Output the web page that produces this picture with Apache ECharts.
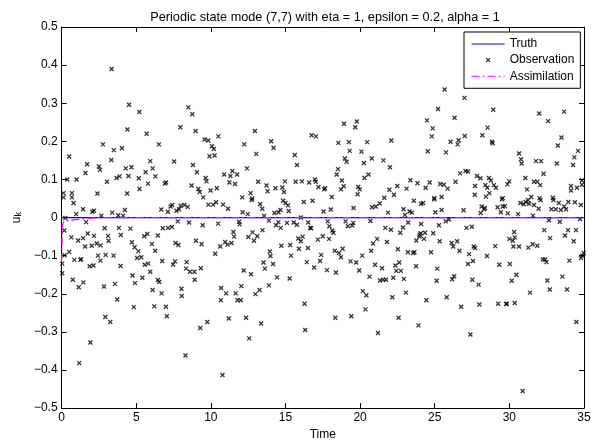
<!DOCTYPE html>
<html>
<head>
<meta charset="utf-8">
<script src="https://cdn.jsdelivr.net/npm/echarts@6/dist/echarts.min.js"></script>
<style>
html,body{margin:0;padding:0;background:#fff;}
#chart{width:599px;height:446px;}
</style>
</head>
<body>
<div id="chart"></div>
<script>
// ---- data ----
const titleText = 'Periodic state mode (7,7) with eta = 1, epsilon = 0.2, alpha = 1';
const xTicks = [0, 5, 10, 15, 20, 25, 30, 35];
const yTicks = [-0.5, -0.4, -0.3, -0.2, -0.1, 0, 0.1, 0.2, 0.3, 0.4, 0.5];
const seriesNames = ['Truth', 'Observation', 'Assimilation'];

const truth = [[0, 0], [35, 0]];

const assimilation = [[0, -0.115], [0.05, -0.02], [0.15, -0.01], [0.8, -0.006], [1.5, -0.003], [2.5, 0], [35, 0]];

const observation = [
[3.35,0.39],[4.52,0.296],[5.21,0.277],[4.41,0.231],[7.96,0.237],[5.70,0.220],[2.77,0.192],[6.52,0.192],[3.5,0.177],[4.04,0.182],
[0.51,0.16],[3.33,0.151],[5.94,0.148],[7.54,0.147],[1.71,0.14],[2.5,0.134],[2.57,0.125],[4.3,0.129],[4.68,0.132],[6.1,0.129],
[1.6,0.117],[5.63,0.119],[0.38,0.1],[1.0,0.1],[3.04,0.094],[3.68,0.104],[3.88,0.108],[4.48,0.109],[5.17,0.103],[6.28,0.108],
[5.79,0.089],[5.22,0.075],[6.92,0.089],[7.0,0.092],[0.13,0.064],[0.69,0.064],[0.13,0.053],[0.69,0.053],[2.4,0.063],[4.39,0.063],
[0.8,0.038],
[0.98,0.009],[1.44,0.022],[2.06,0.015],[2.17,0.018],[2.66,0.005],[3.39,0.013],[3.79,0.006],[4.24,0.02],[4.12,0.005],[0.25,-0.001],
[1.64,-0.012],[0.18,-0.034],[2.88,-0.028],[3.84,-0.027],[4.61,-0.029],[1.75,-0.042],[2.17,-0.048],[1.44,-0.054],[1.11,-0.06],[0.65,-0.052],
[3.11,-0.048],[3.15,-0.061],[2.35,-0.068],[2.61,-0.073],[1.58,-0.076],[2.02,-0.074],[3.97,-0.046],[0.51,-0.09],[0.2,-0.099],[0.85,-0.111],
[1.26,-0.111],[1.31,-0.109],[2.44,-0.1],[2.95,-0.098],[3.48,-0.1],[0.04,-0.121],[1.88,-0.128],[2.13,-0.126],[0.04,-0.146],[3.95,-0.127],
[0.75,-0.163],[1.46,-0.17],[1.15,-0.183],[2.84,-0.181],[3.57,-0.174],[2.6,-0.113],
[3.73,-0.215],[2.93,-0.261],[3.26,-0.274],[1.93,-0.328],[1.18,-0.382],[4.84,-0.235],[6.21,-0.233],[7.05,-0.259],[6.99,-0.234],[8.03,-0.187],
[8.05,-0.206],[4.75,-0.152],[4.92,-0.172],[5.41,-0.158],[6.1,-0.19],[6.7,-0.199],[6.45,-0.164],[6.54,-0.169],[5.94,-0.142],[5.57,-0.124],
[5.81,-0.121],[7.47,-0.123],[7.6,-0.115],[6.74,-0.114],[5.06,-0.106],[5.34,-0.104],[4.71,-0.065],[4.89,-0.078],[5.14,-0.088],[5.54,-0.049],
[5.74,-0.043],[6.05,-0.069],[6.27,-0.087],[6.45,-0.047],[6.78,-0.028],[7.13,-0.027],[7.39,-0.025],[7.63,-0.067],[7.83,-0.072],[6.68,0.021],
[7.12,0.015],[7.3,0.029],[7.41,0.033],[7.7,0.018],[7.87,0.022],[7.98,0.031],[7.78,-0.01],
[8.49,0.289],[8.76,0.271],[8.98,0.227],[12.95,0.227],[10.5,0.213],[9.58,0.205],[9.83,0.202],[14.04,0.2],[16.75,0.216],[17.05,0.213],
[10.07,0.187],[10.2,0.18],[12.24,0.192],[14.2,0.183],[9.91,0.161],[10.25,0.163],[13.04,0.167],[15.62,0.164],[8.8,0.138],[15.77,0.138],
[9.07,0.119],[12.42,0.129],[10.89,0.113],[11.44,0.122],[11.31,0.109],[11.76,0.113],[9.65,0.104],[9.71,0.095],[11.24,0.092],[11.62,0.088],
[13.17,0.094],[8.71,0.084],[9.16,0.075],[9.25,0.067],[9.98,0.071],[10.4,0.077],[13.73,0.084],[13.8,0.069],[14.33,0.077],[14.79,0.079],
[14.9,0.067],[14.97,0.095],[15.68,0.094],[16.1,0.095],[16.59,0.092],[16.97,0.1],[17.03,0.094],[17.21,0.08],[9.49,0.053],[12.1,0.053],
[12.66,0.064],[12.77,0.05],
[8.3,-0.362],[10.78,-0.413],[9.76,-0.274],[9.29,-0.29],[11.2,-0.265],[12.36,-0.263],[13.37,-0.278],[12.57,-0.317],[16.28,-0.226],[16.32,-0.295],
[10.69,-0.185],[11.02,-0.199],[10.67,-0.217],[11.66,-0.199],[11.78,-0.217],[12.0,-0.217],[12.04,-0.18],[12.99,-0.201],[13.26,-0.19],[13.89,-0.178],
[12.2,-0.139],[12.69,-0.149],[14.44,-0.157],[15.28,-0.16],[13.53,-0.118],[13.62,-0.134],[14.17,-0.122],[13.95,-0.089],[13.99,-0.101],[15.37,-0.1],
[16.43,-0.117],[16.92,-0.131],[17.32,-0.114],[8.38,-0.117],[8.34,-0.134],[8.6,-0.142],[8.9,-0.142],[9.33,-0.133],[8.92,-0.163],[9.0,-0.061],
[9.38,-0.07],[10.29,-0.095],[10.63,-0.076],[10.96,-0.064],[11.11,-0.071],[11.38,-0.067],[11.56,-0.05],[11.51,-0.038],[11.89,-0.011],[11.93,-0.018],
[12.51,-0.051],[12.79,-0.039],[12.89,-0.061],[13.11,-0.049],[13.46,-0.033],[8.54,-0.013],[9.45,-0.02],[10.49,-0.016],[13.89,-0.008],[14.37,-0.02],
[14.52,-0.012],[14.68,-0.027],[15.1,-0.014],[15.55,-0.013],[15.77,-0.019],[16.03,0.0],[16.52,-0.013],[16.65,-0.027],[16.72,-0.028],[14.72,-0.074],
[15.32,-0.072],[15.9,-0.082],[16.03,-0.062],[15.86,-0.055],[16.15,-0.05],[16.5,-0.08],[17.17,-0.058],[17.39,-0.098],
[8.22,0.033],[8.45,0.028],[9.84,0.034],[10.15,0.034],[10.35,0.04],[10.82,0.034],[11.15,0.023],[12.13,0.014],[12.47,0.009],[12.73,0.046],
[13.3,0.035],[13.44,0.023],[13.57,0.004],[14.26,0.012],[14.53,0.014],[14.66,0.02],[14.84,0.044],[15.0,0.038],[15.17,0.032],[15.22,0.017],
[16.23,0.041],[16.81,0.044],
[25.66,0.336],[25.22,0.285],[26.33,0.262],[24.48,0.255],[18.92,0.246],[19.78,0.252],[19.67,0.237],[24.86,0.234],[24.8,0.213],[18.54,0.196],
[19.25,0.198],[20.47,0.198],[22.09,0.202],[26.06,0.199],[26.6,0.203],[26.53,0.192],[19.3,0.175],[20.09,0.173],[24.53,0.174],[25.75,0.171],
[18.98,0.155],[19.1,0.146],[20.25,0.143],[20.78,0.155],[21.56,0.15],[22.0,0.132],[20.56,0.113],[20.29,0.104],[18.52,0.127],[18.43,0.113],
[26.7,0.116],[17.65,0.077],[17.59,0.074],[18.1,0.054],[18.78,0.097],[18.9,0.082],[18.72,0.074],[19.87,0.08],[19.98,0.074],[19.83,0.061],
[21.62,0.052],[21.96,0.073],[22.27,0.06],[22.49,0.083],[23.11,0.076],[23.37,0.098],[23.84,0.09],[24.39,0.078],[24.66,0.092],[25.37,0.088],
[25.61,0.086],[25.86,0.076],[26.39,0.094],[24.97,0.051],[25.46,0.054],
[26.99,0.314],[28.92,0.283],[32.0,0.273],[33.67,0.278],[32.6,0.253],[28.54,0.236],[27.01,0.214],[28.19,0.216],[28.83,0.199],[28.88,0.195],
[33.49,0.21],[33.25,0.189],[30.65,0.168],[34.6,0.175],[34.35,0.158],[30.82,0.142],[30.78,0.153],[31.78,0.148],[32.12,0.148],[33.18,0.142],
[34.27,0.138],[32.29,0.115],[27.06,0.122],[27.23,0.121],[27.83,0.109],[28.06,0.103],[28.63,0.104],[28.76,0.097],[31.07,0.104],[31.65,0.094],
[31.87,0.094],[32.07,0.085],[29.87,0.087],[29.99,0.095],[27.7,0.083],[28.39,0.085],[28.52,0.078],[28.96,0.085],[29.1,0.078],[31.18,0.074],
[34.13,0.083],[34.13,0.071],[34.53,0.078],[34.86,0.097],[34.86,0.086],[27.68,0.06],[28.43,0.055],[28.66,0.064],[29.56,0.051],[31.47,0.054],
[32.02,0.051],[32.91,0.052],
[30.89,-0.455],[27.39,-0.307],[21.2,-0.303],[23.91,-0.283],[18.34,-0.263],[19.41,-0.259],[22.58,-0.263],[34.49,-0.274],[20.36,-0.241],[26.77,-0.234],
[27.99,-0.228],[29.25,-0.226],[29.79,-0.227],[29.83,-0.226],[30.36,-0.224],[20.18,-0.193],[20.42,-0.204],[22.16,-0.209],[23.07,-0.197],[24.44,-0.217],
[25.8,-0.209],[31.38,-0.197],[32.71,-0.189],[33.86,-0.189],[32.54,-0.165],[33.55,-0.155],[17.78,-0.138],[18.38,-0.144],[19.94,-0.139],[20.63,-0.155],
[21.0,-0.124],[21.47,-0.133],[21.34,-0.165],[21.54,-0.163],[21.74,-0.163],[22.22,-0.158],[22.93,-0.161],[22.36,-0.126],[22.62,-0.118],[22.42,-0.14],
[22.73,-0.14],[23.75,-0.128],[25.17,-0.134],[25.13,-0.166],[26.17,-0.162],[26.3,-0.154],[27.23,-0.122],[27.56,-0.114],[27.52,-0.163],[27.94,-0.176],
[29.32,-0.124],[30.03,-0.122],[30.16,-0.166],[30.47,-0.15],[28.5,-0.101],[32.24,-0.11],[32.49,-0.117],[32.4,-0.11],[34.02,-0.113],[34.88,-0.1],
[34.98,-0.093],[34.8,-0.106],[18.3,-0.087],[18.58,-0.093],[18.72,-0.104],[18.83,-0.082],[19.36,-0.115],[19.74,-0.118],[20.14,-0.1],[20.74,-0.087],
[20.87,-0.068],[21.14,-0.056],[21.8,-0.064],[22.53,-0.083],[23.2,-0.091],[23.55,-0.093],[23.64,-0.091],[24.75,-0.091],[23.77,-0.06],[24.0,-0.045],
[24.28,-0.056],[23.97,-0.05],[24.06,-0.041],[24.35,-0.04],[24.9,-0.041],[25.33,-0.062],[26.13,-0.067],[26.5,-0.062],[26.24,-0.076],[26.66,-0.087],
[27.3,-0.096],[27.61,-0.076],[27.7,-0.08],[29.05,-0.075],[27.13,-0.027],[27.48,-0.024],[30.0,-0.056],[30.23,-0.061],[30.36,-0.052],[30.27,-0.076],
[30.65,-0.076],[30.32,-0.038],[31.27,-0.079],[31.56,-0.07],[31.87,-0.074],[32.34,-0.033],[32.73,-0.054],[32.65,-0.007],[33.38,-0.011],[33.93,-0.033],
[34.46,-0.033],[33.73,-0.047],[34.31,-0.062],[34.73,-0.004],[17.83,-0.01],[17.94,-0.023],[18.14,-0.034],[18.21,-0.04],[17.92,-0.056],[17.5,-0.049],
[19.03,-0.01],[19.18,-0.023],[19.47,-0.021],[19.54,-0.014],[20.69,-0.009],[21.69,-0.027],[22.07,-0.032],[22.87,-0.026],[22.69,-0.04],[23.22,-0.013],
[24.09,-0.017],[25.28,-0.02],[25.73,-0.01],[25.95,-0.005],
[17.55,0.016],[18.03,0.021],[19.56,0.025],[20.8,0.027],[21.05,0.029],[21.31,0.037],[21.87,0.013],[22.91,0.022],[23.0,0.007],[23.31,0.016],
[23.47,0.013],[23.6,0.044],[24.09,0.036],[24.22,0.038],[24.97,0.048],[25.04,0.014],[25.46,0.02],[26.93,0.019],[28.08,0.012],[28.14,0.029],
[28.3,0.022],[28.36,0.025],[29.21,0.027],[29.5,0.048],[29.43,0.014],[29.56,0.029],[29.7,0.03],[29.89,0.011],[30.58,0.009],[30.74,0.038],
[30.96,0.035],[31.09,0.041],[31.32,0.036],[31.25,0.046],[31.65,0.033],[31.96,0.023],[32.09,0.046],[31.58,0.005],[32.82,0.022],[32.95,0.046],
[33.11,0.022],[33.31,0.038],[33.45,0.02],[33.67,0.029],[33.8,0.022],[33.95,0.041],[34.39,0.04],[34.79,0.033]
];

// ---- chart ----
const FONT = "'Liberation Sans', Arial, Helvetica, sans-serif";
const xMark = 'path://M0,0L10,10M10,0L0,10';
const xMarkLegend = 'path://M0,0L0.01,0M14.5,4.5L18.5,8.5M18.5,4.5L14.5,8.5M33,13L33.01,13';
const dashDot = [8, 3, 2, 3];

function fmtY(v) {
  if (Math.abs(v) < 1e-9) return '0';
  return (v < 0 ? '\u2212' : '') + Math.abs(v).toFixed(1);
}

const chart = echarts.init(document.getElementById('chart'), null, {renderer: 'canvas'});
function axisCommon() {
  return {
    axisLine: {show: true, onZero: false, lineStyle: {color: '#000', width: 1}},
    axisTick: {show: true, inside: true, length: 5, lineStyle: {color: '#000'}},
    splitLine: {show: false},
    z: 0
  };
}
chart.setOption({
  animation: false,
  backgroundColor: '#fff',
  textStyle: {fontFamily: FONT},
  title: {
    text: titleText, left: 320, top: 6, textAlign: 'center',
    textStyle: {fontFamily: FONT, fontSize: 12.7, fontWeight: 'normal', color: '#000'}
  },
  grid: {left: 58, right: 15, top: 27, bottom: 36, containLabel: false},
  legend: {
    orient: 'vertical', left: 464, top: 32,
    backgroundColor: '#fff', borderColor: '#000', borderWidth: 1,
    padding: [6, 6, 6, 7], itemGap: 3, itemWidth: 33, itemHeight: 13,
    textStyle: {fontFamily: FONT, fontSize: 12, color: '#000'},
    data: [
      {name: seriesNames[0], itemStyle: {opacity: 0}, lineStyle: {width: 1, color: '#0000ff', type: 'solid'}},
      {name: seriesNames[1], icon: xMarkLegend, itemStyle: {color: 'rgba(0,0,0,0)', borderColor: '#000', borderWidth: 1.3}},
      {name: seriesNames[2], itemStyle: {opacity: 0}, lineStyle: {width: 1, color: '#ff00ff', type: dashDot}}
    ]
  },
  xAxis: [
    Object.assign({
      type: 'value', min: xTicks[0], max: xTicks[xTicks.length - 1], interval: 5, position: 'bottom',
      name: 'Time', nameLocation: 'middle', nameGap: 19,
      nameTextStyle: {fontFamily: FONT, fontSize: 12, color: '#000'},
      axisLabel: {show: true, margin: 4, fontFamily: FONT, fontSize: 12, color: '#000'}
    }, axisCommon()),
    Object.assign({
      type: 'value', min: xTicks[0], max: xTicks[xTicks.length - 1], interval: 5, position: 'top',
      axisLabel: {show: false}
    }, axisCommon())
  ],
  yAxis: [
    Object.assign({
      type: 'value', min: yTicks[0], max: yTicks[yTicks.length - 1], interval: 0.1, position: 'left',
      name: '{u|u}{k|k}', nameLocation: 'middle', nameRotate: 90, nameGap: 34,
      nameTextStyle: {
        fontFamily: FONT, color: '#000',
        rich: {
          u: {fontFamily: FONT, fontSize: 12, lineHeight: 12, verticalAlign: 'top', color: '#000'},
          k: {fontFamily: FONT, fontSize: 9, lineHeight: 9, padding: [6, 0, 0, 0], verticalAlign: 'bottom', color: '#000'}
        }
      },
      axisLabel: {show: true, margin: 4, fontFamily: FONT, fontSize: 12, color: '#000', formatter: fmtY}
    }, axisCommon()),
    Object.assign({
      type: 'value', min: yTicks[0], max: yTicks[yTicks.length - 1], interval: 0.1, position: 'right',
      axisLabel: {show: false}
    }, axisCommon())
  ],
  series: [
    {
      name: seriesNames[1], type: 'scatter', data: observation, xAxisIndex: 0, yAxisIndex: 0,
      symbol: xMark, symbolSize: 4, silent: true,
      itemStyle: {color: 'rgba(0,0,0,0)', borderColor: '#000', borderWidth: 1.3}, z: 2
    },
    {
      name: seriesNames[0], type: 'line', data: truth, xAxisIndex: 0, yAxisIndex: 0,
      symbol: 'none', showSymbol: false, silent: true,
      lineStyle: {color: '#0000ff', width: 1.2}, itemStyle: {color: '#0000ff'}, z: 5
    },
    {
      name: seriesNames[2], type: 'line', data: assimilation, xAxisIndex: 0, yAxisIndex: 0,
      symbol: 'none', showSymbol: false, silent: true,
      lineStyle: {color: '#ff00ff', width: 1.2, type: dashDot}, itemStyle: {color: '#ff00ff'}, z: 10
    }
  ]
});
</script>
</body>
</html>
